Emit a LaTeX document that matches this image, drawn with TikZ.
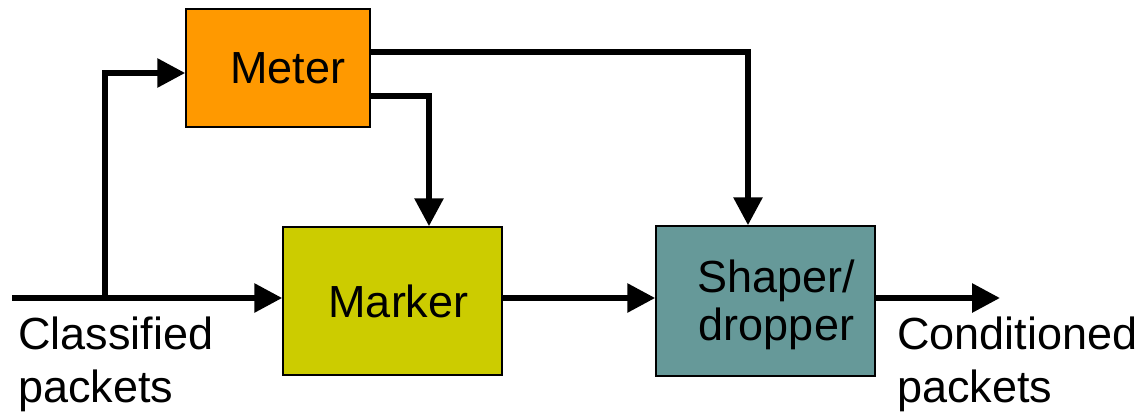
\documentclass[tikz,border=0pt]{standalone}
\usepackage{fontspec}
\setmainfont{Liberation Sans}
\usetikzlibrary{arrows.meta}
\definecolor{meterc}{HTML}{FF9900}
\definecolor{markerc}{HTML}{CCCC00}
\definecolor{shaperc}{HTML}{669999}
\begin{document}
\begin{tikzpicture}[x=1pt,y=-1pt,
  blk/.style={draw=black,line width=1.5pt,inner sep=0pt,align=center,
    font=\fontsize{45}{48}\selectfont},
  conn/.style={line width=6pt,-{Triangle[length=28pt,width=28pt]}},
  lbl/.style={inner sep=0pt,align=left,font=\fontsize{45}{53}\selectfont}]
\useasboundingbox (0,0) rectangle (1144,413);
\node[blk,fill=meterc,minimum width=184pt,minimum height=118pt] (meter) at (278,68) {\hspace*{20pt}Meter};
\node[blk,fill=markerc,minimum width=219pt,minimum height=148pt] (marker) at (392.5,301) {\hspace*{12pt}Marker};
\node[blk,fill=shaperc,minimum width=219pt,minimum height=150pt] (shaper) at (765.5,301) {\rule{0pt}{40pt}\hspace*{22pt}Shaper/\\\hspace*{22pt}dropper};
\coordinate (in) at (12,298);
\coordinate (br) at (105,298);
\coordinate (out) at (1000,298);
\draw[conn] (in) -- ([yshift=3pt]marker.west);
\draw[conn] (br) |- ([yshift=-5pt]meter.west);
\draw[conn] ([yshift=16pt]meter.east) -| ([xshift=-17.5pt]shaper.north);
\draw[conn] ([yshift=-28pt]meter.east) -| ([xshift=36.5pt]marker.north);
\draw[conn] ([yshift=3pt]marker.east) -- ([yshift=3pt]shaper.west);
\draw[conn] ([yshift=3pt]shaper.east) -- (out);
\node[lbl,anchor=north west] (cls) at (18,317) {Classified\\packets};
\node[lbl,anchor=north west] (cond) at (897,317) {Conditioned\\packets};
\end{tikzpicture}
\end{document}
